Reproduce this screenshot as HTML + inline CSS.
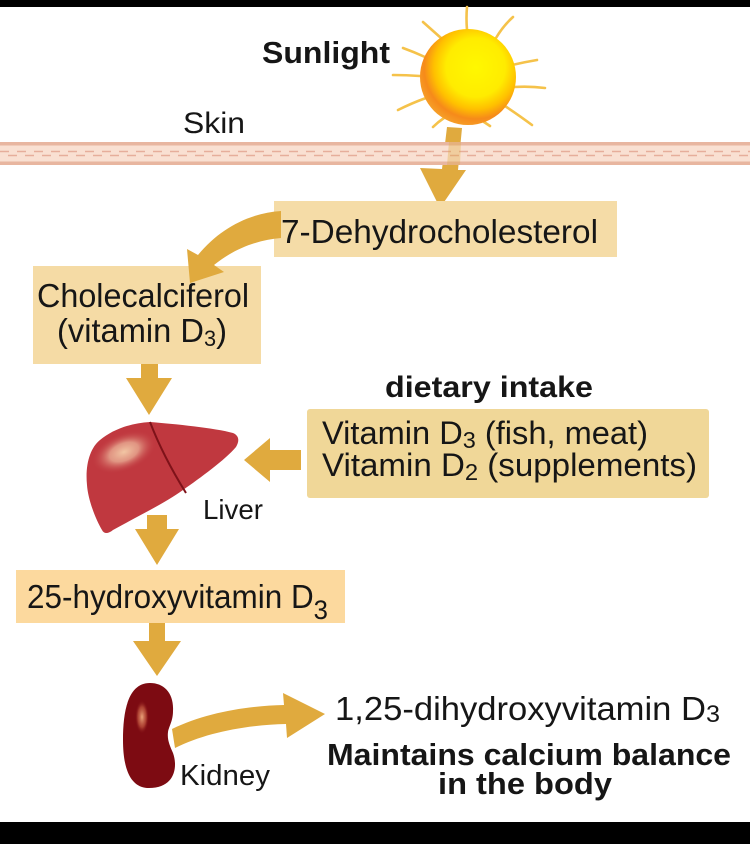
<!DOCTYPE html>
<html>
<head>
<meta charset="utf-8">
<style>
  html, body { margin: 0; padding: 0; background: #ffffff; }
  svg { display: block; }
  text { font-family: "Liberation Sans", Arial, sans-serif; fill: #161616; }
</style>
</head>
<body>
<svg width="750" height="844" viewBox="0 0 750 844" xmlns="http://www.w3.org/2000/svg">
  <defs>
    <radialGradient id="sunG" cx="0.58" cy="0.4" r="0.64">
      <stop offset="0" stop-color="#fff800"/>
      <stop offset="0.48" stop-color="#ffec00"/>
      <stop offset="0.68" stop-color="#ffc000"/>
      <stop offset="0.84" stop-color="#f68a1a"/>
      <stop offset="1" stop-color="#f6a22a"/>
    </radialGradient>
    <radialGradient id="livHL" cx="0.5" cy="0.5" r="0.5">
      <stop offset="0" stop-color="#f2c6a4"/>
      <stop offset="0.45" stop-color="#e6a58e" stop-opacity="0.85"/>
      <stop offset="1" stop-color="#c0383f" stop-opacity="0"/>
    </radialGradient>
    <radialGradient id="kidHL" cx="0.5" cy="0.5" r="0.5">
      <stop offset="0" stop-color="#eaa37a"/>
      <stop offset="0.6" stop-color="#c0553e" stop-opacity="0.7"/>
      <stop offset="1" stop-color="#7d0b12" stop-opacity="0"/>
    </radialGradient>
  </defs>

  <!-- black bars -->
  <rect x="0" y="0" width="750" height="7" fill="#000"/>
  <rect x="0" y="822" width="750" height="22" fill="#000"/>

  <!-- sun arrow (behind skin) -->
  <polygon points="447,127 462,128 458,170 466,170 440,208 420,168 442,169" fill="#e0aa3e"/>

  <!-- skin band -->
  <rect x="0" y="142" width="750" height="23" fill="#e8b6a0"/>
  <rect x="0" y="145.5" width="750" height="16" fill="#f9e0d2"/>
  <line x1="0" y1="151.5" x2="750" y2="151.5" stroke="#e6ae9b" stroke-width="1.4" stroke-dasharray="9 8"/>
  <line x1="8" y1="155.5" x2="750" y2="155.5" stroke="#e6ae9b" stroke-width="1.4" stroke-dasharray="9 8"/>
  <polygon points="449,142 461,142 460,165 447,165" fill="#e0aa3e" opacity="0.35"/>

  <!-- sun rays -->
  <g stroke="#f5c24a" stroke-width="2.6" stroke-linecap="round" fill="none">
    <path d="M467,30 Q466,18 467,7"/>
    <path d="M496,38 Q503,26 513,17"/>
    <path d="M512,65 Q525,62 537,60"/>
    <path d="M514,87 Q530,86 545,88"/>
    <path d="M505,106 Q520,116 532,125"/>
    <path d="M484,122 Q487,124 490,126"/>
    <path d="M444,118 Q438,122 433,127"/>
    <path d="M426,98 Q412,103 398,110"/>
    <path d="M420,76 Q406,75 393,75"/>
    <path d="M425,57 Q414,52 403,48"/>
    <path d="M441,38 Q432,30 423,22"/>
  </g>
  <!-- sun body -->
  <circle cx="468" cy="77" r="48" fill="url(#sunG)"/>

  <!-- boxes -->
  <rect x="274" y="201" width="343" height="56" fill="#f5dca7"/>
  <rect x="33" y="266" width="228" height="98" fill="#f5dba5"/>
  <rect x="307" y="409" width="402" height="89" rx="3" fill="#f0d798"/>
  <rect x="16" y="570" width="329" height="53" fill="#fcd99e"/>

  <!-- curved arrow 7-DHC -> cholecalciferol -->
  <path d="M281,211 C250,213 220,228 198,255 L187,249 L190,283 L224,272 L214,265 C235,248 258,240 281,238 Z" fill="#e0aa3e"/>

  <!-- arrow cholecalciferol -> liver -->
  <polygon points="141,364 158,364 158,378 172,378 149,415 126,378 141,378" fill="#e0aa3e"/>

  <!-- dietary arrow -> liver -->
  <polygon points="301,450 270,450 270,438 244,460 270,482 270,470 301,470" fill="#e0aa3e"/>

  <!-- liver -->
  <path d="M150,422 C175,424 215,428 233,433 C240,436 239,442 236,447 C225,460 200,478 183,490 C165,503 140,515 113,530 C108,534 104,534 102,530 C96,520 88,500 87,485 C85,465 90,448 100,440 C112,430 130,423 150,422 Z" fill="#c0383f"/>
  <ellipse cx="124" cy="452" rx="34" ry="19" transform="rotate(-22 124 452)" fill="url(#livHL)"/>
  <path d="M150,422 Q163,456 186,493" stroke="#7e1219" stroke-width="2" fill="none"/>

  <!-- arrow liver -> 25-hydroxy -->
  <polygon points="147,515 167,515 167,529 179,529 157,565 135,529 147,529" fill="#e0aa3e"/>

  <!-- arrow 25-hydroxy -> kidney -->
  <polygon points="149,623 165,623 165,641 181,641 157,676 133,641 149,641" fill="#e0aa3e"/>

  <!-- kidney -->
  <path d="M150,683 C164,683 174,693 173,711 C173,721 169,726 168,732 C167,740 170,746 173,753 C178,767 175,788 149,788 C131,788 123,770 123,740 C123,711 128,683 150,683 Z" fill="#7d0b12"/>
  <ellipse cx="142" cy="717" rx="7" ry="17" fill="url(#kidHL)"/>

  <!-- kidney arrow -->
  <path d="M172,729 C205,713 245,706 284,705 L283,693 L325,714 L287,738 L286,724 C245,725 205,733 175,748 Z" fill="#e0aa3e"/>

  <!-- text -->
  <text x="262" y="63" font-size="31" font-weight="bold" textLength="128" lengthAdjust="spacingAndGlyphs">Sunlight</text>
  <text x="183" y="133" font-size="30" textLength="62" lengthAdjust="spacingAndGlyphs">Skin</text>
  <text x="281" y="243" font-size="33" textLength="317" lengthAdjust="spacingAndGlyphs">7-Dehydrocholesterol</text>
  <text x="37" y="307" font-size="33" textLength="212" lengthAdjust="spacingAndGlyphs">Cholecalciferol</text>
  <text x="57" y="342" font-size="33" textLength="170" lengthAdjust="spacingAndGlyphs">(vitamin D<tspan font-size="22" dy="4">3</tspan><tspan dy="-4">)</tspan></text>
  <text x="385" y="397" font-size="30" font-weight="bold" textLength="208" lengthAdjust="spacingAndGlyphs">dietary intake</text>
  <text x="322" y="444" font-size="32" textLength="326" lengthAdjust="spacingAndGlyphs">Vitamin D<tspan font-size="23" dy="4">3</tspan><tspan dy="-4"> (fish, meat)</tspan></text>
  <text x="322" y="476" font-size="32" textLength="375" lengthAdjust="spacingAndGlyphs">Vitamin D<tspan font-size="23" dy="4">2</tspan><tspan dy="-4"> (supplements)</tspan></text>
  <text x="203" y="519" font-size="28" textLength="60" lengthAdjust="spacingAndGlyphs">Liver</text>
  <text x="27" y="608" font-size="33" textLength="301" lengthAdjust="spacingAndGlyphs">25-hydroxyvitamin D<tspan font-size="27" dy="11">3</tspan></text>
  <text x="180" y="785" font-size="29" textLength="90" lengthAdjust="spacingAndGlyphs">Kidney</text>
  <text x="335" y="720" font-size="33" textLength="385" lengthAdjust="spacingAndGlyphs">1,25-dihydroxyvitamin D<tspan font-size="24" dy="2">3</tspan></text>
  <text x="327" y="765" font-size="31" font-weight="bold" textLength="404" lengthAdjust="spacingAndGlyphs">Maintains calcium balance</text>
  <text x="438" y="794" font-size="31" font-weight="bold" textLength="174" lengthAdjust="spacingAndGlyphs">in the body</text>
</svg>
</body>
</html>
